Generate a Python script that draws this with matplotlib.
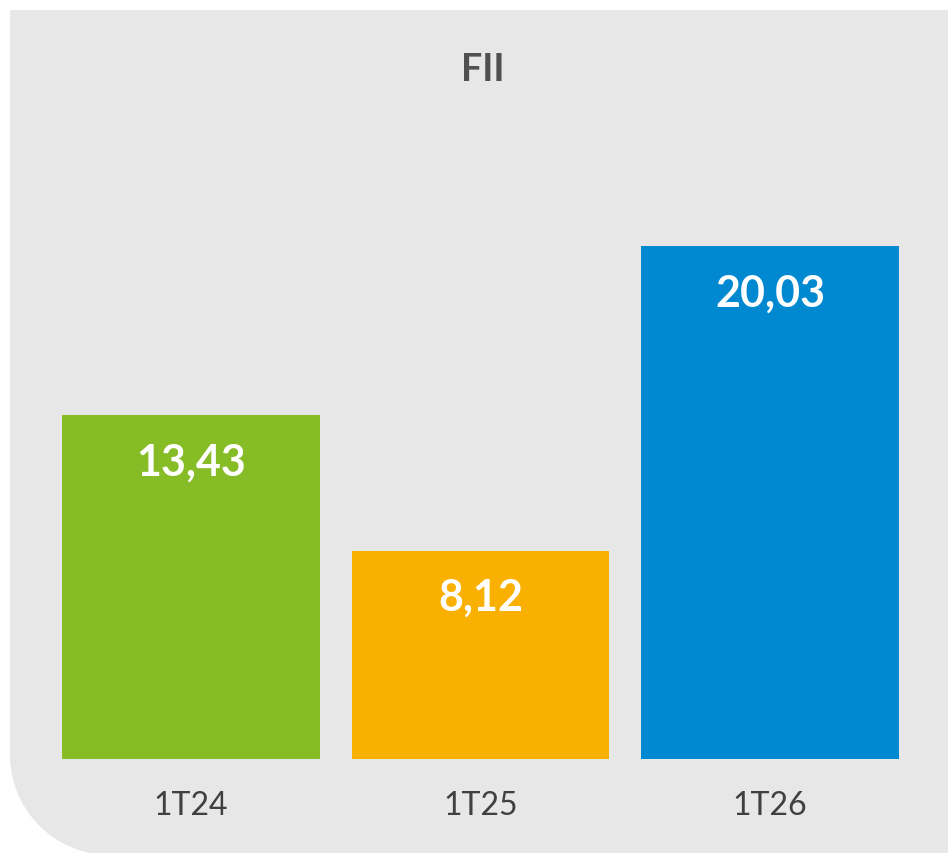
import numpy as np
import matplotlib
matplotlib.use("Agg")
import matplotlib.pyplot as plt
from matplotlib.path import Path
from matplotlib.patches import PathPatch
from matplotlib.transforms import Affine2D

# Dane
categories = ["1T24", "1T25", "1T26"]
values = [13.43, 8.12, 20.03]
labels = ["13,43", "8,12", "20,03"]
colors = ["#86BC25", "#F9B000", "#0089D1"]
title = "FII"

W, H = 948, 854
fig = plt.figure(figsize=(W / 100, H / 100), dpi=100)
fig.patch.set_facecolor("white")

# Tło: szary prostokąt z zaokrąglonym lewym dolnym rogiem (w pikselach)
r = 100
x0, y_top = 10, H - 11
theta = np.linspace(np.pi, 1.5 * np.pi, 30)
arc = [(x0 + r + r * np.cos(t), r - 2 + r * np.sin(t)) for t in theta]
verts = [(x0, y_top), (W + 1, y_top), (W + 1, -2)] + arc[::-1] + [(x0, y_top)]
path = Path(verts)
bg = PathPatch(path, facecolor="#E7E7E7", edgecolor="none", zorder=-10,
               transform=Affine2D().scale(1 / W, 1 / H) + fig.transFigure)
fig.patches.append(bg)

# Osie ustawione tak, by słupki trafiły w miejsca z oryginału
left_px, right_px = 46.25, 914.75
bottom_px, top_px = 94, 714
ax = fig.add_axes([left_px / W, bottom_px / H, (right_px - left_px) / W, (top_px - bottom_px) / H])
ax.set_facecolor("none")
ax.set_zorder(1)
ax.set_xlim(-0.5, 2.5)
ax.set_ylim(0, (top_px - bottom_px) / 25.6)

x = np.arange(len(categories))
ax.bar(x, values, width=0.891, color=colors)

for xi, v, lab in zip(x, values, labels):
    ax.annotate(lab, (xi, v), xytext=(0, -46), textcoords="offset pixels",
                ha="center", va="center", color="white", fontsize=31,
                fontweight="bold", family="Lato")

ax.set_xticks(x)
ax.set_xticklabels(categories, fontsize=23, color="#404040", family="Lato")
ax.tick_params(axis="x", length=0, pad=22)
ax.set_yticks([])
for s in ax.spines.values():
    s.set_visible(False)

fig.text(483 / W, 1 - 70 / H, title, ha="center", va="center",
         fontsize=27, fontweight="bold", color="#505050", family="Lato")

fig.savefig("out.png", dpi=100)
